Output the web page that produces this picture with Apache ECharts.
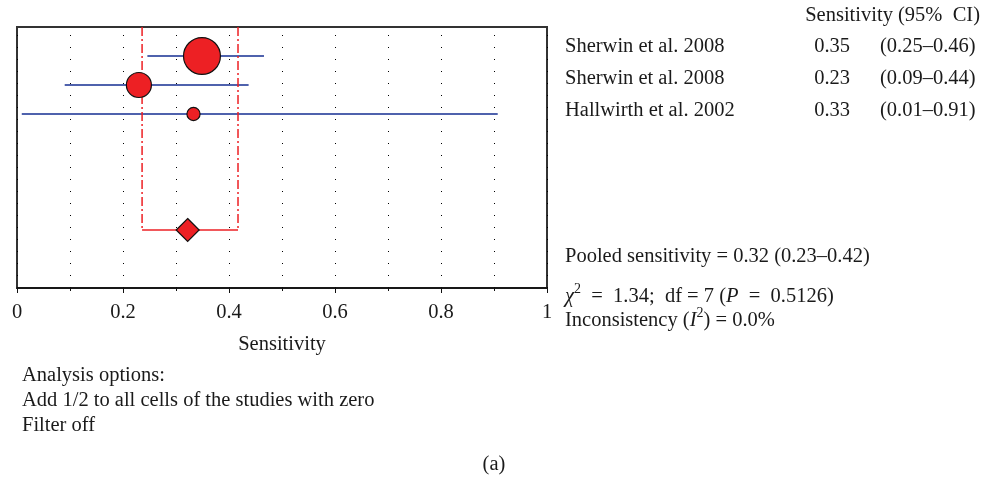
<!DOCTYPE html>
<html><head><meta charset="utf-8">
<script src="https://cdn.jsdelivr.net/npm/echarts@6/dist/echarts.min.js"></script>
<style>html,body{margin:0;padding:0;background:#fff}#c{width:991px;height:479px}</style>
</head><body><div id="c"></div>
<script>
// ---- data ----
const studies = ['Sherwin et al. 2008', 'Sherwin et al. 2008', 'Hallwirth et al. 2002'];
const sensitivity = [0.349, 0.23, 0.333];
const ciLow = [0.246, 0.09, 0.009];
const ciHigh = [0.466, 0.437, 0.907];
const weights = [63, 29, 8];            // relative study weights (%)
const sensLabels = ['0.35', '0.23', '0.33'];
const ciLabels = ['(0.25–0.46)', '(0.09–0.44)', '(0.01–0.91)'];
const studyRows = [1, 2, 3];
const pooledRow = 7;
const pooledValue = [0.322];
const pooledLow = [0.236];
const pooledHigh = [0.417];
const xTickValues = [0, 0.2, 0.4, 0.6, 0.8, 1];

const FONT = "'Liberation Serif', 'Times New Roman', serif";
const FS = 20.5;
const RED = '#ED2024';
const BLUE = '#4f62ad';

const chart = echarts.init(document.getElementById('c'), null, {renderer: 'canvas'});

function txt(x, y, text, align, extra) {
  return {type: 'text', silent: true, style: Object.assign({
    x: x, y: y, text: text, fill: '#1a1a1a',
    fontSize: FS, fontFamily: FONT,
    align: align || 'left', verticalAlign: 'middle'
  }, extra || {})};
}

const rowTextY = [47, 79, 111];
const graphics = [txt(980, 16, 'Sensitivity (95%  CI)', 'right')];
studies.forEach((s, i) => {
  graphics.push(txt(565, rowTextY[i], s, 'left'));
  graphics.push(txt(850, rowTextY[i], sensLabels[i], 'right'));
  graphics.push(txt(880, rowTextY[i], ciLabels[i], 'left'));
});
graphics.push(txt(565, 257, 'Pooled sensitivity = 0.32 (0.23–0.42)', 'left'));
const richStyle = {
  lineHeight: 30,
  rich: {
    i: {fontStyle: 'italic', fontSize: FS, fontFamily: FONT, lineHeight: 30},
    s: {fontSize: 14, fontFamily: FONT, lineHeight: 14, verticalAlign: 'top'}
  }
};
graphics.push(txt(565, 297, '{i|χ}{s|2}  =  1.34;  df = 7 ({i|P}  =  0.5126)', 'left', richStyle));
graphics.push(txt(565, 321, 'Inconsistency ({i|I}{s|2}) = 0.0%', 'left', richStyle));
graphics.push(txt(22, 376, 'Analysis options:', 'left'));
graphics.push(txt(22, 401, 'Add 1/2 to all cells of the studies with zero', 'left'));
graphics.push(txt(22, 426, 'Filter off', 'left'));
graphics.push(txt(494, 465, '(a)', 'center'));

const dotted = {color: '#000', width: 1, type: [1, 11], dashOffset: 4};

const option = {
  animation: false,
  backgroundColor: '#fff',
  grid: {left: 17, right: 444, top: 27, bottom: 191, show: true, borderColor: '#333', borderWidth: 2, backgroundColor: 'transparent'},
  xAxis: {
    type: 'value', min: 0, max: 1, interval: 0.2,
    axisLine: {show: true, onZero: false, lineStyle: {color: '#111', width: 1.5}},
    axisTick: {show: true, length: 5, lineStyle: {color: '#111'}},
    minorTick: {show: true, splitNumber: 2, length: 3, lineStyle: {color: '#111'}},
    splitLine: {show: true, lineStyle: dotted},
    minorSplitLine: {show: true, lineStyle: dotted},
    axisLabel: {
      color: '#1a1a1a', fontSize: FS, fontFamily: FONT, margin: 14,
      formatter: v => {
        const r = Math.round(v * 10) / 10;
        return xTickValues.indexOf(r) >= 0 ? String(r) : '';
      }
    },
    name: 'Sensitivity', nameLocation: 'middle', nameGap: 46,
    nameTextStyle: {color: '#1a1a1a', fontSize: FS, fontFamily: FONT}
  },
  yAxis: {
    type: 'value', min: 0, max: 9, inverse: true,
    axisLine: {show: false}, axisTick: {show: false}, axisLabel: {show: false}, splitLine: {show: false}
  },
  graphic: graphics,
  series: [
    {
      type: 'custom', z: 2,
      data: studies.map((s, i) => [ciLow[i], ciHigh[i], studyRows[i]]),
      encode: {x: [0, 1], y: 2},
      renderItem: (params, api) => {
        const a = api.coord([api.value(0), api.value(2)]);
        const b = api.coord([api.value(1), api.value(2)]);
        return {type: 'line', shape: {x1: a[0], y1: a[1], x2: b[0], y2: b[1]},
          style: {stroke: BLUE, lineWidth: 2}};
      }
    },
    {
      type: 'custom', z: 2,
      data: [[pooledLow[0], pooledHigh[0], pooledRow]],
      encode: {x: [0, 1], y: 2},
      renderItem: (params, api) => {
        const lo = api.coord([api.value(0), api.value(2)]);
        const hi = api.coord([api.value(1), api.value(2)]);
        const top = api.coord([api.value(0), 0])[1];
        const dash = [9, 3, 2, 3];
        return {type: 'group', children: [
          {type: 'line', shape: {x1: lo[0], y1: top, x2: lo[0], y2: lo[1]}, style: {stroke: RED, lineWidth: 1.5, lineDash: dash}},
          {type: 'line', shape: {x1: hi[0], y1: top, x2: hi[0], y2: hi[1]}, style: {stroke: RED, lineWidth: 1.5, lineDash: dash}},
          {type: 'line', shape: {x1: lo[0], y1: lo[1], x2: hi[0], y2: hi[1]}, style: {stroke: RED, lineWidth: 1.5}}
        ]};
      }
    },
    {
      type: 'scatter', z: 3,
      data: studies.map((s, i) => [sensitivity[i], studyRows[i]]),
      symbol: 'circle',
      symbolSize: (v, p) => 4.65 * Math.sqrt(weights[p.dataIndex]),
      itemStyle: {color: RED, borderColor: '#111', borderWidth: 1.2, opacity: 1}
    },
    {
      type: 'scatter', z: 4,
      data: [[pooledValue[0], pooledRow]],
      symbol: 'diamond', symbolSize: [23, 23],
      itemStyle: {color: RED, borderColor: '#111', borderWidth: 1.2, opacity: 1}
    }
  ]
};
chart.setOption(option);
</script>
</body></html>
